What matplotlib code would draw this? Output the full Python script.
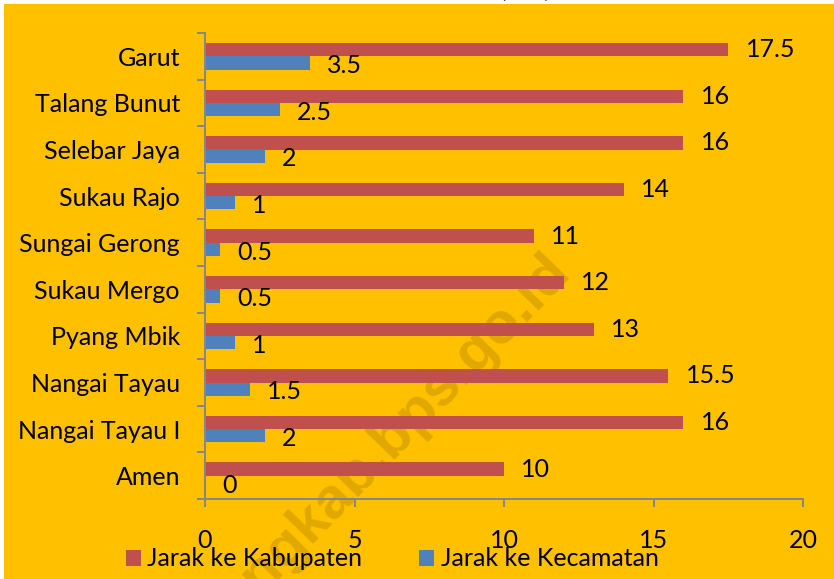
import matplotlib
matplotlib.use("Agg")
import matplotlib.pyplot as plt
from matplotlib.patches import Rectangle, Patch
import numpy as np

categories = ["Garut", "Talang Bunut", "Selebar Jaya", "Sukau Rajo", "Sungai Gerong",
              "Sukau Mergo", "Pyang Mbik", "Nangai Tayau", "Nangai Tayau I", "Amen"]
kabupaten = [17.5, 16, 16, 14, 11, 12, 13, 15.5, 16, 10]
kecamatan = [3.5, 2.5, 2, 1, 0.5, 0.5, 1, 1.5, 2, 0]
series_names = ["Jarak ke Kabupaten", "Jarak ke Kecamatan"]
x_ticks = [0, 5, 10, 15, 20]
title = "(Km)"
watermark = "lebongkab.bps.go.id"

RED = "#C0504D"
BLUE = "#4F81BD"
BG = "#FFC000"
AXC = "#868686"
FONT = ["Lato", "DejaVu Sans"]
FS = 18

plt.rcParams['font.family'] = FONT

W, H = 834, 579
fig = plt.figure(figsize=(W / 100, H / 100), dpi=100, facecolor="white")
fig.patches.append(Rectangle((4 / W, 0), 1, (H - 4) / H, transform=fig.transFigure,
                             facecolor=BG, edgecolor="none", zorder=-2))
fig.text(572 / W, 1 - 272 / H, watermark, rotation=46, rotation_mode="anchor",
         ha="right", va="baseline", fontsize=42, fontweight="bold",
         family=["Liberation Sans", "DejaVu Sans"], color="black", alpha=0.12, zorder=-1)
fig.text(525 / W, 1 + 2.5 / H, title, ha="center", va="baseline", fontsize=FS,
         fontweight="bold", color="black")

ax = fig.add_axes([205 / W, 1 - 499 / H, (803 - 205) / W, (499 - 33) / H])
ax.set_facecolor("none")

n = len(categories)
ypos = np.arange(n)[::-1]
bh = 0.286
ax.barh(ypos + bh / 2, kabupaten, height=bh, color=RED, zorder=2)
ax.barh(ypos - bh / 2, kecamatan, height=bh, color=BLUE, zorder=2)

def fmt(v):
    return f"{v:g}"

for y, v in zip(ypos, kabupaten):
    ax.annotate(fmt(v), (v, y + bh / 2), xytext=(12.5, 0), textcoords="offset points",
                ha="left", va="center", fontsize=FS, color="black")
for y, v in zip(ypos, kecamatan):
    ax.annotate(fmt(v), (v, y - bh / 2), xytext=(12.5, -2), textcoords="offset points",
                ha="left", va="center", fontsize=FS, color="black")

ax.set_xlim(0, 20)
ax.set_ylim(-0.5, n - 0.5)
ax.set_xticks(x_ticks)
ax.set_xticklabels([str(t) for t in x_ticks])
ax.set_yticks(ypos)
ax.set_yticklabels(categories)
ax.set_yticks(np.arange(-0.5, n, 1.0), minor=True)

for s in ["top", "right"]:
    ax.spines[s].set_visible(False)
for s in ["left", "bottom"]:
    ax.spines[s].set_color(AXC)
    ax.spines[s].set_linewidth(1.4)

ax.tick_params(axis="y", which="major", length=0, pad=18, labelsize=FS)
ax.tick_params(axis="y", which="minor", length=6, width=1.4, color=AXC, direction="out")
ax.tick_params(axis="x", which="major", length=6, width=1.4, color=AXC, direction="out",
               pad=15.5, labelsize=FS)

handles = [Patch(facecolor=RED, edgecolor="none"), Patch(facecolor=BLUE, edgecolor="none")]
fig.legend(handles, series_names, loc="center", bbox_to_anchor=(392 / W, 1 - 559 / H),
           ncol=2, frameon=False, fontsize=FS, handlelength=0.6, handleheight=0.6,
           handletextpad=0.25, columnspacing=2.3, borderpad=0, borderaxespad=0)

fig.savefig("out.png", dpi=100, facecolor=fig.get_facecolor())
